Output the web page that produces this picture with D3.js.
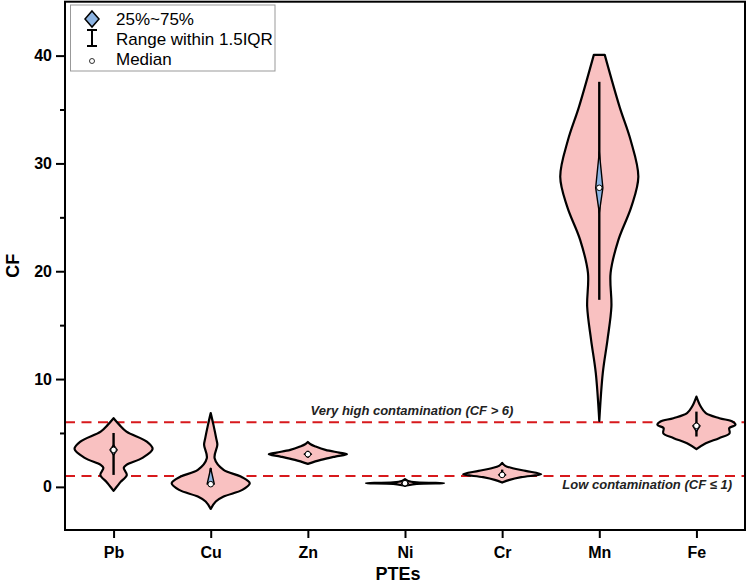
<!DOCTYPE html>
<html>
<head>
<meta charset="utf-8">
<script src="https://cdn.jsdelivr.net/npm/d3@7"></script>
<style>
  body { margin: 0; background: #fff; }
  svg { display: block; font-family: "Liberation Sans", Arial, sans-serif; }
</style>
</head>
<body>
<svg id="chart" width="746" height="586"></svg>
<script>
// categories on the x axis
const categories = ["Pb", "Cu", "Zn", "Ni", "Cr", "Mn", "Fe"];

// violin outlines: [CF value, relative half width (1 = widest)]
const pbDensity = [[6.37, 0], [5.75, 0.15], [5.13, 0.33], [4.2, 0.85], [3.52, 1.0], [2.69, 0.74], [2.04, 0.33], [1.76, 0.26], [1.11, 0.34], [0.46, 0.18], [0.19, 0.12], [-0.37, 0]];
const cuDensity = [[6.84, 0], [5.75, 0.07], [4.52, 0.14], [3.9, 0.17], [2.66, 0.1], [1.58, 0.33], [0.96, 0.77], [0.34, 1.0], [-0.28, 0.81], [-0.9, 0.33], [-1.36, 0.13], [-2.04, 0]];
const znDensity = [[4.17, 0], [3.95, 0.07], [3.74, 0.2], [3.43, 0.45], [3.18, 0.8], [3.03, 1.0], [2.81, 0.7], [2.5, 0.33], [2.13, 0]];
const niDensity = [[0.72, 0], [0.55, 0.08], [0.42, 0.3], [0.34, 1.0], [0.27, 0.3], [0.15, 0.08], [0.08, 0]];
const crDensity = [[2.23, 0], [1.95, 0.08], [1.73, 0.27], [1.48, 0.6], [1.18, 1.0], [0.9, 0.49], [0.65, 0.19], [0.4, 0]];
const mnDensity = [[40.07, 0.14], [35.25, 0.52], [32.19, 0.8], [28.76, 1.0], [25.97, 0.82], [22.91, 0.49], [19.85, 0.29], [16.7, 0.31], [13.64, 0.21], [10.58, 0.09], [6.12, 0]];
const feDensity = [[8.38, 0], [7.45, 0.11], [6.84, 0.24], [6.37, 0.59], [6.06, 0.92], [5.75, 1.0], [5.45, 0.84], [4.98, 0.85], [4.52, 0.58], [4.05, 0.24], [3.5, 0]];
const densities = [pbDensity, cuDensity, znDensity, niDensity, crDensity, mnDensity, feDensity];

// box statistics per element
const medians     = [3.43, 0.25, 3.03, 0.34, 1.11, 27.74, 5.66];
const q1Values    = [2.95, 0.19, 2.85, 0.28, 0.95, 25.42, 5.13];
const q3Values    = [3.9, 1.73, 3.2, 0.4, 1.4, 31.08, 5.94];
const whiskerLow  = [1.11, 0.19, 2.7, 0.25, 0.85, 17.35, 4.67];
const whiskerHigh = [5.0, 1.73, 3.35, 0.45, 1.6, 37.57, 6.98];

// reference lines
const thresholds = [6, 1];
const yTicks = [0, 10, 20, 30, 40];
const yMinorTicks = [5, 15, 25, 35];

const svg = d3.select("#chart");
const plotLeft = 65, plotRight = 745, plotTop = 1.7, plotBottom = 530;

const x = d3.scalePoint().domain(categories).range([plotLeft, plotRight]).padding(0.5);
const y = d3.scaleLinear().domain([-4, 45]).range([plotBottom, plotTop]);
const halfW = d3.scaleLinear().domain([0, 1]).range([0, x.step() * 0.402]);

const pink = "#f9c1c1";
const blue = "#8db4e2";
const red = "#d7191c";

// threshold lines (behind violins)
svg.selectAll("line.thr")
    .data(thresholds)
    .enter().append("line")
    .attr("x1", plotLeft).attr("x2", plotRight)
    .attr("y1", d => y(d)).attr("y2", d => y(d))
    .attr("stroke", red)
    .attr("stroke-width", 2)
    .attr("stroke-dasharray", "10,6.5");

// violins
categories.forEach((c, i) => {
    const cx = x(c);
    const area = d3.area()
        .curve(d3.curveCatmullRom.alpha(0.5))
        .y(d => y(d[0]))
        .x0(d => cx - halfW(d[1]))
        .x1(d => cx + halfW(d[1]));

    svg.append("path")
        .datum(densities[i])
        .attr("d", area)
        .attr("fill", pink)
        .attr("stroke", "#000")
        .attr("stroke-width", 2.2)
        .attr("stroke-linejoin", "round");

    // whisker range
    svg.append("line")
        .attr("x1", cx).attr("x2", cx)
        .attr("y1", y(whiskerLow[i])).attr("y2", y(whiskerHigh[i]))
        .attr("stroke", "#000")
        .attr("stroke-width", 2.4);

    // 25%~75% diamond
    const dw = 3.6;
    svg.append("path")
        .attr("d", `M${cx},${y(q3Values[i])}L${cx + dw},${y(medians[i])}L${cx},${y(q1Values[i])}L${cx - dw},${y(medians[i])}Z`)
        .attr("fill", blue)
        .attr("stroke", "#000")
        .attr("stroke-width", 1.4)
        .attr("stroke-linejoin", "round");

    // median
    svg.append("circle")
        .attr("cx", cx)
        .attr("cy", y(medians[i]))
        .attr("r", 2.8)
        .attr("fill", "#fff")
        .attr("stroke", "#000")
        .attr("stroke-width", 1);
});

// annotations
svg.append("text")
    .attr("x", 412)
    .attr("y", 415)
    .attr("text-anchor", "middle")
    .style("font-size", "13px")
    .style("font-weight", "bold")
    .style("font-style", "italic")
    .attr("fill", "#222")
    .text("Very high contamination (CF > 6)");

svg.append("text")
    .attr("x", 732)
    .attr("y", 489)
    .attr("text-anchor", "end")
    .style("font-size", "13px")
    .style("font-weight", "bold")
    .style("font-style", "italic")
    .attr("fill", "#222")
    .text("Low contamination (CF \u2264 1)");

// axes
const yAxis = svg.append("g")
    .attr("transform", `translate(${plotLeft},0)`)
    .call(d3.axisLeft(y).tickValues(yTicks).tickSize(9).tickPadding(4).tickFormat(d3.format("d")));
svg.append("g")
    .attr("transform", `translate(${plotLeft},0)`)
    .call(d3.axisLeft(y).tickValues(yMinorTicks).tickSize(5).tickFormat(""))
    .select(".domain").remove();
yAxis.select(".domain").remove();

const xAxis = svg.append("g")
    .attr("transform", `translate(0,${plotBottom})`)
    .call(d3.axisBottom(x).tickSize(8).tickPadding(9));
xAxis.select(".domain").remove();

svg.selectAll(".tick line").attr("stroke", "#000").attr("stroke-width", 2);
svg.selectAll(".tick text")
    .attr("fill", "#000")
    .style("font-family", "Liberation Sans, Arial, sans-serif")
    .style("font-size", "16px")
    .style("font-weight", "bold");

// frame
svg.append("rect")
    .attr("x", plotLeft).attr("y", plotTop)
    .attr("width", plotRight - plotLeft).attr("height", plotBottom - plotTop)
    .attr("fill", "none")
    .attr("stroke", "#000")
    .attr("stroke-width", 2);

// axis titles
svg.append("text")
    .attr("x", 398)
    .attr("y", 580)
    .attr("text-anchor", "middle")
    .style("font-size", "18px")
    .style("font-weight", "bold")
    .text("PTEs");

svg.append("text")
    .attr("transform", `translate(19,${(plotTop + plotBottom) / 2}) rotate(-90)`)
    .attr("text-anchor", "middle")
    .style("font-size", "18px")
    .style("font-weight", "bold")
    .text("CF");

// legend
const legend = svg.append("g");
legend.append("rect")
    .attr("x", 70.5).attr("y", 5)
    .attr("width", 204.5).attr("height", 66)
    .attr("fill", "#fff")
    .attr("stroke", "#999")
    .attr("stroke-width", 1);

legend.append("path")
    .attr("d", "M92,11L99,19L92,27L85,19Z")
    .attr("fill", blue)
    .attr("stroke", "#000")
    .attr("stroke-width", 1.5);

legend.append("path")
    .attr("d", "M87,30H97M92,30V46M87,46H97")
    .attr("fill", "none")
    .attr("stroke", "#000")
    .attr("stroke-width", 2);

legend.append("circle")
    .attr("cx", 92).attr("cy", 61).attr("r", 2.5)
    .attr("fill", "#fff")
    .attr("stroke", "#000")
    .attr("stroke-width", 0.8);

const legendLabels = ["25%~75%", "Range within 1.5IQR", "Median"];
legend.selectAll("text.lab")
    .data(legendLabels)
    .enter().append("text")
    .attr("x", 116)
    .attr("y", (d, i) => 24.5 + i * 20.3)
    .style("font-size", "17px")
    .attr("fill", "#000")
    .text(d => d);
</script>
</body>
</html>
